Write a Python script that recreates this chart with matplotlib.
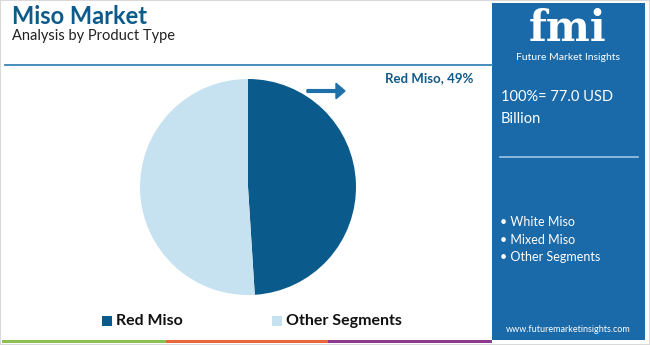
import matplotlib.pyplot as plt
from matplotlib.patches import Rectangle, FancyArrow

plt.rcParams['font.family'] = ['Lato', 'DejaVu Sans']

segments = ['Red Miso', 'Other Segments']
shares = [49, 51]
colors = ['#0b5a8c', '#c6e2f1']
total_label = '100%= 77.0 USD\nBillion'
panel_items = ['White Miso', 'Mixed Miso', 'Other Segments']

W, H = 650, 345
fig = plt.figure(figsize=(W / 100, H / 100), dpi=100)


def fx(x):
    return x / W


def fy(y):
    return 1 - y / H


# frame border
fig.patches.append(Rectangle((0, 0), 1, 1, transform=fig.transFigure, fill=False,
                             edgecolor='#d9d9d9', linewidth=1.5))

# title block
fig.text(fx(12), fy(17), 'Miso Market', fontsize=17, fontweight='bold', color='#0e5a8a', va='center')
fig.text(fx(12), fy(36), 'Analysis by Product Type', fontsize=10.5, color='#222222', va='center')
fig.add_artist(plt.Line2D([fx(5), fx(492)], [fy(65), fy(65)], transform=fig.transFigure,
                          color='#3a85b8', linewidth=1.3))

# pie
ax = fig.add_axes([fx(140), fy(295), 216 / W, 216 / H])
ax.pie(shares, colors=colors, startangle=90, counterclock=False)
ax.set_xlim(-1, 1)
ax.set_ylim(-1, 1)
ax.set_aspect('auto')

fig.text(fx(473), fy(78), f'{segments[0]}, {shares[0]}%', fontsize=9.5, fontweight='bold',
         color='#0e5a8a', ha='right', va='center')
fig.patches.append(FancyArrow(fx(307), fy(91), fx(29), 0, width=0.008, head_width=0.045,
                              head_length=fx(9), transform=fig.transFigure,
                              color='#1f6fa8', length_includes_head=False))

# legend
lx = [102, 272]
for x0, name, c in zip(lx, segments, colors):
    fig.patches.append(Rectangle((fx(x0), fy(326)), fx(10), 10 / H, transform=fig.transFigure,
                                 facecolor=c, edgecolor='none'))
    fig.text(fx(x0 + 14), fy(321), name, fontsize=11.5, fontweight='bold', color='#111111', va='center')

# right panel
fig.patches.append(Rectangle((fx(492), fy(340)), fx(153), 337 / H, transform=fig.transFigure,
                             facecolor='#1a69a8', edgecolor='none'))
fig.text(fx(568), fy(29), 'fmi', fontsize=30, fontweight='bold', family='DejaVu Serif',
         color='white', ha='center', va='center')
fig.text(fx(568), fy(58), 'Future Market Insights', fontsize=7.5, color='white', ha='center', va='center')
fig.text(fx(501), fy(108), total_label, fontsize=10.5, color='white', va='center', linespacing=1.75)
fig.add_artist(plt.Line2D([fx(500), fx(638)], [fy(157), fy(157)], transform=fig.transFigure,
                          color='#9cc6e6', linewidth=1.2))
for i, item in enumerate(panel_items):
    fig.text(fx(500), fy(222 + 17.5 * i), '• ' + item, fontsize=9, color='white', va='center')
fig.text(fx(568), fy(330), 'www.futuremarketinsights.com', fontsize=6.5, color='white',
         ha='center', va='center')

# bottom stripe
for x0, x1, c in [(2, 166, '#8cc152'), (166, 328, '#e5673a'), (328, 492, '#8e3a8c')]:
    fig.patches.append(Rectangle((fx(x0), fy(343)), fx(x1 - x0), 3 / H, transform=fig.transFigure,
                                 facecolor=c, edgecolor='none'))

fig.savefig('out.png', dpi=100)
